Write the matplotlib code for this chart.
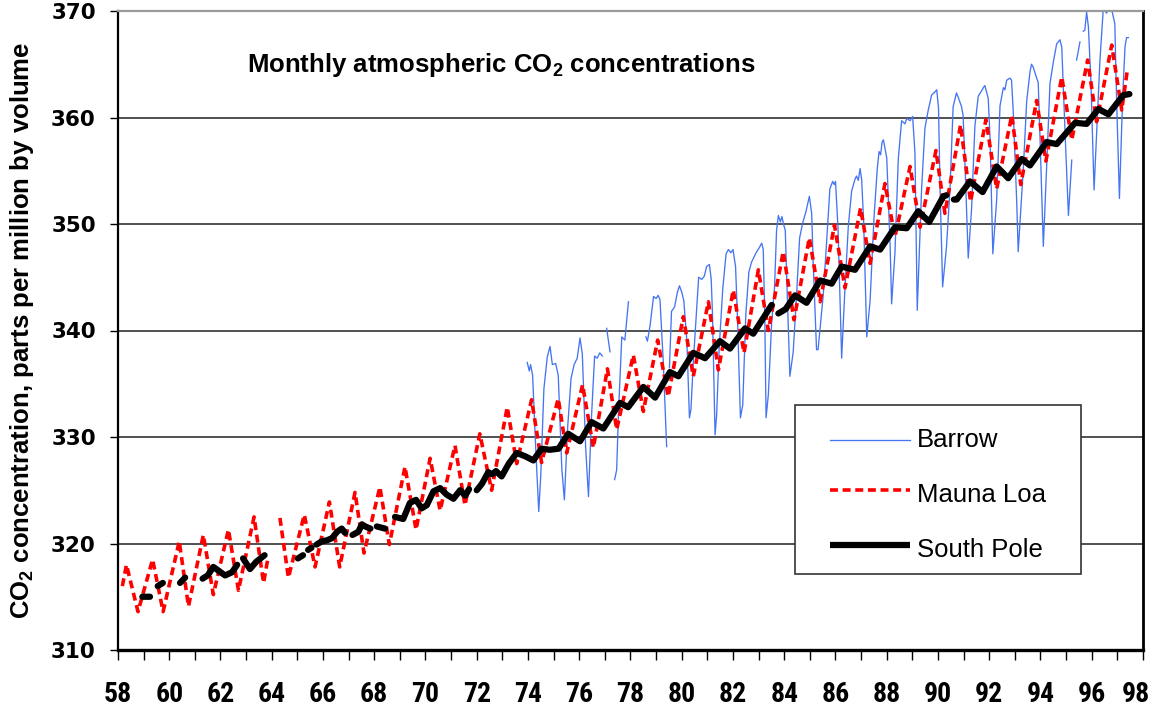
import numpy as np
import matplotlib
matplotlib.use('Agg')
import matplotlib.pyplot as plt
from matplotlib import font_manager
from matplotlib.lines import Line2D
from matplotlib.patches import Rectangle
from matplotlib.transforms import ScaledTranslation

nan = float('nan')

# ---------------- data (decimal year as 2-digit year, ppm) ----------------
series_names = ['Barrow', 'Mauna Loa', 'South Pole']
x_labels = ['58', '60', '62', '64', '66', '68', '70', '72', '74', '76', '78',
            '80', '82', '84', '86', '88', '90', '92', '94', '96', '98']
y_ticks = [310, 320, 330, 340, 350, 360, 370]

barrow_year = [
    73.97, 74.05, 74.10, 74.18, 74.30, 74.42, 74.50, 74.62, 74.75, 74.86, 74.95, 75.08, 75.18, 75.32, 75.42,
    75.55, 75.68, 75.80, 75.92, 76.03, 76.12, 76.25, 76.36, 76.48, 76.60, 76.70, 76.80, 76.90, nan,
    77.07, 77.20, nan,
    77.38, 77.46, 77.53, 77.60, 77.66, 77.78, 77.92, nan,
    78.60, 78.66, 78.76, 78.90, 79.00, 79.08, 79.15, 79.28, 79.41, nan,
    79.52, 79.60, 79.72, 79.83, 79.91, 80.00, 80.08, 80.20, 80.30, 80.36, 80.45, 80.57, 80.66, 80.78, 80.88,
    80.97, 81.08, 81.15, 81.20, 81.30, 81.36, 81.46, 81.60, 81.73, 81.82, 81.92, 82.00, 82.10, 82.17, 82.29,
    82.38, 82.50, 82.62, 82.72, 82.90, 83.03, 83.12, 83.18, 83.24, 83.29, 83.38, 83.51, 83.62, 83.70, 83.77,
    83.85, 83.91, 83.97, 84.04, 84.10, 84.22, 84.35, 84.48, 84.60, 84.72, 84.85, 84.98, 85.07, 85.13, 85.26,
    85.32, 85.52, 85.65, 85.78, 85.89, 85.95, 86.00, 86.10, 86.24, 86.36, 86.50, 86.63, 86.76, 86.82, 86.89,
    86.96, 87.02, 87.10, 87.22, 87.35, 87.50, 87.63, 87.70, 87.76, 87.82, 87.87, 88.00, 88.13, 88.19, 88.32,
    88.45, 88.58, 88.71, 88.78, 88.91, 89.01, 89.10, 89.19, 89.36, 89.49, 89.62, 89.75, 89.88, 89.95, 90.02,
    90.08, 90.18, 90.33, 90.47, 90.59, 90.72, 90.79, 90.92, 90.98, 91.05, 91.18, 91.31, 91.44, 91.57, 91.70,
    91.77, 91.83, 91.96, 92.03, 92.14, 92.29, 92.42, 92.55, 92.61, 92.68, 92.81, 92.87, 92.94, 93.07, 93.13,
    93.33, 93.46, 93.59, 93.65, 93.72, 93.85, 93.91, 93.98, 94.11, 94.24, 94.37, 94.50, 94.63, 94.76, 94.83,
    94.96, 95.09, 95.22, nan,
    95.41, 95.54, nan,
    95.67, 95.73, 95.80, 95.87, 95.97, 96.09, 96.19, 96.32, 96.45, 96.58, 96.65, 96.72, 96.81, 96.90, 96.97,
    97.08, 97.17, 97.23, 97.30, 97.36, 97.43]
barrow_ppm = [
    337.0, 336.2, 336.8, 335.8, 329.0, 323.0, 326.5, 334.5, 337.5, 338.5, 336.8, 336.9, 335.8, 327.0, 324.1,
    331.0, 335.5, 336.8, 337.4, 339.3, 337.8, 329.0, 324.4, 332.0, 337.6, 337.4, 337.9, 337.6, nan,
    340.2, 338.0, nan,
    326.0, 326.9, 332.2, 336.0, 339.4, 339.1, 342.7, nan,
    339.4, 339.0, 340.4, 343.2, 343.0, 343.3, 342.9, 337.0, 329.1, nan,
    336.5, 341.8, 342.2, 343.6, 344.2, 343.6, 342.8, 339.0, 331.8, 332.6, 337.0, 341.6, 345.0, 344.8, 345.1,
    346.0, 346.2, 344.8, 341.5, 330.2, 332.0, 338.3, 343.9, 347.2, 347.6, 347.3, 347.6, 346.0, 341.5, 331.8,
    333.0, 341.5, 345.5, 346.4, 347.3, 347.8, 348.2, 347.6, 341.5, 331.8, 334.0, 340.8, 344.0, 349.4, 350.8,
    350.2, 350.7, 350.0, 349.4, 344.7, 335.7, 338.0, 343.3, 348.7, 350.1, 351.2, 352.6, 351.0, 346.3, 338.2,
    338.2, 343.3, 348.2, 353.3, 354.0, 353.7, 354.0, 349.5, 337.4, 343.5, 349.8, 353.1, 354.2, 354.5, 354.1,
    355.2, 354.2, 350.1, 339.4, 342.8, 350.5, 355.2, 356.8, 356.5, 357.7, 357.9, 356.2, 348.1, 342.5, 347.3,
    356.1, 359.7, 359.4, 359.9, 359.7, 360.1, 356.7, 341.9, 353.3, 359.0, 360.7, 362.1, 362.4, 362.6, 360.9,
    353.4, 344.1, 347.8, 353.4, 361.0, 362.3, 361.9, 361.0, 360.2, 355.8, 346.8, 351.4, 359.2, 362.0, 362.5,
    362.8, 363.0, 361.8, 358.1, 347.2, 352.3, 361.1, 362.8, 362.6, 363.5, 363.7, 363.5, 360.4, 352.2, 347.4,
    355.2, 361.5, 364.3, 365.0, 364.7, 363.7, 363.3, 358.2, 347.9, 355.4, 363.2, 365.2, 366.9, 367.3, 366.6,
    358.5, 350.8, 356.0, nan,
    365.4, 367.1, nan,
    368.1, 368.2, 369.9, 368.5, 363.2, 353.2, 358.5, 365.4, 370.2, 369.8, 370.2, 370.5, 369.8, 368.8, 361.6,
    352.4, 359.2, 363.2, 366.7, 367.5, 367.5]

mauna_year = [
    58.17, 58.33, 58.78, 59.35, 59.76, 60.39, 60.75, 61.33, 61.72, 62.31, 62.70, 63.31, 63.68, 63.85, nan,
    64.32, 64.65, 65.27, 65.69, 66.25, 66.65, 67.25, 67.60, 68.22, 68.59, 69.20, 69.63, 70.18, 70.57, 71.15,
    71.54, 72.12, 72.58, 73.19, 73.56, 74.14, 74.53, 75.18, 75.51, 76.13, 76.55, 77.10, 77.46, 78.11, 78.50,
    79.06, 79.47, 80.06, 80.45, 81.04, 81.43, 82.01, 82.43, 82.99, 83.38, 83.96, 84.38, 84.98, 85.40, 85.96,
    86.37, 86.98, 87.35, 87.93, 88.32, 88.91, 89.30, 89.92, 90.27, 90.88, 91.27, 91.87, 92.29, 92.88, 93.23,
    93.85, 94.21, 94.83, 95.22, 95.84, 96.19, 96.78, 97.17, 97.38]
mauna_ppm = [
    316.0, 318.0, 313.6, 318.5, 313.6, 320.2, 314.1, 320.8, 315.2, 321.3, 315.6, 322.5, 316.3, 318.6, nan,
    322.4, 316.8, 322.7, 317.8, 323.9, 317.8, 324.8, 319.1, 325.3, 319.9, 327.2, 321.3, 328.0, 323.1, 329.2,
    323.6, 330.3, 325.0, 332.8, 327.5, 333.5, 327.6, 333.6, 328.5, 334.9, 329.0, 336.4, 330.7, 337.7, 332.4,
    339.1, 333.8, 341.3, 335.7, 342.7, 336.3, 343.8, 337.9, 345.7, 340.0, 347.4, 341.0, 348.7, 342.7, 349.9,
    344.0, 351.5, 346.3, 353.8, 348.8, 355.4, 349.7, 356.9, 351.0, 359.3, 352.1, 359.8, 353.3, 360.2, 353.7,
    361.6, 355.9, 363.8, 357.9, 365.4, 359.6, 366.8, 360.7, 364.3]

pole_year = [
    58.95, 59.25, nan, 59.55, 59.75, nan, 60.42, 60.62, nan,
    61.30, 61.50, 61.72, 61.95, 62.18, 62.45, 62.65, nan,
    62.88, 63.15, 63.40, 63.72, nan,
    65.02, 65.22, nan, 65.42, 65.55, nan,
    65.75, 65.95, 66.15, 66.35, 66.55, 66.73, 66.86, nan,
    67.15, 67.38, 67.52, 67.65, 67.85, nan,
    68.10, 68.42, nan,
    68.81, 69.13, 69.39, 69.63, 69.85, 70.05, 70.31, 70.57, 70.82, 71.09, 71.35, 71.55, 71.70, nan,
    72.00, 72.20, 72.45, 72.60, 72.75, 72.97, 73.25, 73.56, 73.88, 74.21, 74.53, 74.85, 75.19, 75.57, 76.03,
    76.48, 76.94, 77.59, 77.91, 78.50, 78.96, 79.54, 79.87, 80.45, 80.91, 81.49, 81.88, 82.47, 82.79, 83.51, nan,
    83.77, 84.05, 84.42, 84.87, 85.40, 85.85, 86.24, 86.76, 87.35, 87.74, 88.32, 88.78, 89.23, 89.66, 90.21,
    90.33, nan,
    90.62, 90.73, 91.25, 91.74, 92.29, 92.74, 93.27, 93.59, 94.24, 94.63, 95.35, 95.80, 96.26, 96.65, 97.23,
    97.47]
pole_ppm = [
    315.0, 315.0, nan, 316.0, 316.3, nan, 316.3, 316.8, nan,
    316.7, 317.0, 317.8, 317.4, 317.0, 317.3, 318.0, nan,
    318.6, 317.6, 318.3, 318.9, nan,
    318.6, 318.9, nan, 319.4, 319.6, nan,
    319.9, 320.2, 320.3, 320.5, 321.1, 321.4, 321.0, nan,
    320.8, 321.1, 321.8, 321.6, 321.4, nan,
    321.6, 321.4, nan,
    322.5, 322.3, 323.8, 324.1, 323.3, 323.6, 324.9, 325.2, 324.6, 324.2, 325.0, 324.5, 325.1, nan,
    325.0, 325.6, 326.7, 326.5, 326.8, 326.3, 327.5, 328.5, 328.2, 327.8, 328.9, 328.8, 328.9, 330.3, 329.6,
    331.4, 330.8, 333.2, 332.8, 334.7, 333.7, 336.1, 335.7, 337.9, 337.4, 339.0, 338.3, 340.2, 339.7, 342.4, nan,
    341.6, 342.0, 343.3, 342.6, 344.7, 344.4, 346.0, 345.7, 347.9, 347.6, 349.7, 349.6, 351.2, 350.2, 352.6,
    352.7, nan,
    352.3, 352.3, 354.0, 353.0, 355.4, 354.3, 356.1, 355.5, 357.7, 357.5, 359.5, 359.4, 360.8, 360.3, 362.1,
    362.2]

# ---------------- fonts ----------------
def has_font(name, stretch='normal'):
    try:
        p = font_manager.findfont(font_manager.FontProperties(family=name, stretch=stretch, weight='bold'),
                                  fallback_to_default=False)
        return p
    except Exception:
        return None

narrow_prop = None
for cand in ['Liberation Sans Narrow', 'DejaVu Sans Condensed', 'Roboto Condensed', 'Open Sans Condensed']:
    if has_font(cand):
        narrow_prop = font_manager.FontProperties(family=cand, weight='bold', size=20)
        break
if narrow_prop is None:
    p = has_font('DejaVu Sans', 'condensed')
    if p and 'ondensed' in p:
        narrow_prop = font_manager.FontProperties(fname=p, size=20)
if narrow_prop is None:
    narrow_prop = font_manager.FontProperties(family='Liberation Sans', weight='bold', size=16)

plt.rcParams['font.family'] = ['Liberation Sans', 'DejaVu Sans']
plt.rcParams['mathtext.fontset'] = 'custom'
plt.rcParams['mathtext.rm'] = 'Liberation Sans'
plt.rcParams['mathtext.bf'] = 'Liberation Sans:bold'

W, H = 1151, 710
fig = plt.figure(figsize=(W / 100, H / 100), dpi=100)
ax = fig.add_axes([118 / W, 60 / H, 1025 / W, 639 / H])

blue = '#4575f2'
ax.plot(barrow_year, barrow_ppm, color=blue, lw=0.95, zorder=3)
ax.plot(mauna_year, mauna_ppm, color='#ff0000', lw=2.6, linestyle=(0, (2.2, 1.3)),
        dash_capstyle='butt', zorder=4)
ax.plot(pole_year, pole_ppm, color='black', lw=4.5, solid_capstyle='round',
        solid_joinstyle='round', zorder=5)

ax.set_xlim(58, 98)
ax.set_ylim(310, 370)
ax.set_xticks([int(s) for s in x_labels])
ax.set_xticklabels(x_labels, fontproperties=narrow_prop)
ax.set_xticks(np.arange(58, 99, 1), minor=True)
ax.tick_params(axis='x', which='both', direction='out', length=7, width=1, pad=15)
# keep the last label inside the canvas
last = ax.get_xticklabels()[-1]
last.set_transform(last.get_transform() + ScaledTranslation(-7 / 100, 0, fig.dpi_scale_trans))
ax.set_yticks(y_ticks)
ax.set_yticklabels([str(v) for v in y_ticks], fontfamily='DejaVu Sans', fontweight='bold', fontsize=15.5)
ax.tick_params(axis='y', direction='out', length=6, width=1, pad=10)

ax.grid(axis='y', color='#202020', lw=1.1, zorder=1)
ax.set_axisbelow(True)
for side, col, lw in [('top', '#9a9a9a', 1.6), ('right', 'black', 2.0),
                      ('bottom', 'black', 2.4), ('left', 'black', 1.6)]:
    ax.spines[side].set_color(col)
    ax.spines[side].set_linewidth(lw)
    ax.spines[side].set_zorder(6)

def ax_xy(px, py):
    return (px - 118) / 1025, (650 - py) / 639

tx, ty = ax_xy(247, 65)
ax.text(tx, ty, r'Monthly atmospheric CO$_\mathbf{2}$ concentrations', transform=ax.transAxes,
        fontsize=18.5, fontweight='bold', ha='left', va='center')

fig.text(22 / W, 1 - 330 / H, r'CO$_\mathbf{2}$ concentration, parts per million by volume',
         rotation=90, fontsize=18.5, fontweight='bold', ha='center', va='center')

# legend box
x0, y0 = ax_xy(795, 574)
x1, y1 = ax_xy(1081, 405)
ax.add_patch(Rectangle((x0, y0), x1 - x0, y1 - y0, transform=ax.transAxes,
                       facecolor='white', edgecolor='#333333', lw=1.2, zorder=7))
styles = [dict(color=blue, lw=0.95),
          dict(color='#ff0000', lw=2.6, linestyle=(0, (2.2, 1.3)), dash_capstyle='butt'),
          dict(color='black', lw=4.5, solid_capstyle='butt')]
line_py = [440, 490, 545]
text_py = [440, 495, 550]
for name, st, lp, tp in zip(series_names, styles, line_py, text_py):
    xa, ya = ax_xy(830, lp)
    xb, _ = ax_xy(910, lp)
    ax.add_line(Line2D([xa, xb], [ya, ya], transform=ax.transAxes, zorder=8, **st))
    xt, yt = ax_xy(917, tp)
    ax.text(xt, yt, name, transform=ax.transAxes, fontsize=18.5, ha='left', va='center', zorder=8)

fig.savefig('out.png', dpi=100)
